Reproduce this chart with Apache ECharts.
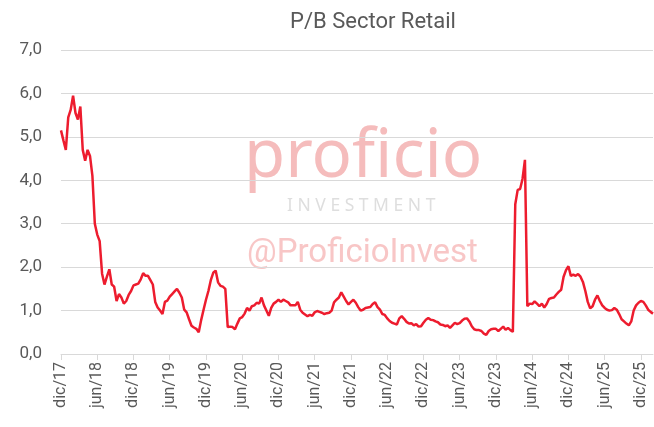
<!DOCTYPE html>
<html>
<head>
<meta charset="utf-8">
<script src="https://cdn.jsdelivr.net/npm/echarts@6/dist/echarts.min.js"></script>
<style>
html,body{margin:0;padding:0;background:#fff;}
#chart{width:654px;height:427px;}
</style>
</head>
<body>
<div id="chart"></div>
<script>
const titleText = 'P/B Sector Retail';
const tickLabels = ['dic/17','jun/18','dic/18','jun/19','dic/19','jun/20','dic/20','jun/21','dic/21','jun/22','dic/22','jun/23','dic/23','jun/24','dic/24','jun/25','dic/25'];
const pointsPerTick = 15;
const pbValues = [
5.15,4.92,4.7,5.45,5.62,5.95,5.55,5.4,5.7,4.7,
4.45,4.7,4.56,4.1,3.0,2.75,2.6,1.85,1.6,1.78,
1.95,1.6,1.55,1.22,1.38,1.3,1.16,1.22,1.36,1.45,
1.58,1.6,1.62,1.72,1.86,1.8,1.8,1.7,1.6,1.2,
1.07,1.0,0.92,1.2,1.23,1.32,1.38,1.44,1.5,1.41,
1.3,1.02,0.96,0.8,0.65,0.61,0.58,0.5,0.78,1.02,
1.25,1.45,1.7,1.87,1.92,1.65,1.57,1.55,1.5,0.62,
0.63,0.62,0.57,0.7,0.82,0.85,0.93,1.06,1.0,1.1,
1.12,1.18,1.16,1.3,1.12,1.0,0.88,1.06,1.16,1.2,
1.25,1.2,1.25,1.22,1.19,1.12,1.12,1.12,1.2,1.02,
0.95,0.91,0.87,0.9,0.88,0.96,0.99,0.97,0.95,0.92,
0.94,0.95,1.0,1.19,1.25,1.3,1.42,1.32,1.22,1.14,
1.2,1.25,1.18,1.08,1.0,1.02,1.06,1.07,1.08,1.15,
1.19,1.08,1.02,0.92,0.9,0.82,0.76,0.72,0.7,0.68,
0.82,0.87,0.81,0.74,0.7,0.71,0.66,0.69,0.63,0.64,
0.72,0.79,0.83,0.79,0.78,0.75,0.73,0.68,0.67,0.64,
0.66,0.6,0.66,0.72,0.69,0.71,0.77,0.81,0.82,0.75,
0.64,0.57,0.55,0.55,0.53,0.47,0.44,0.53,0.57,0.58,
0.58,0.53,0.58,0.63,0.56,0.6,0.55,0.51,3.45,3.78,
3.8,4.03,4.47,1.1,1.16,1.15,1.21,1.16,1.1,1.16,
1.07,1.15,1.27,1.29,1.3,1.37,1.43,1.48,1.78,1.93,
2.02,1.8,1.83,1.8,1.84,1.78,1.66,1.45,1.2,1.05,
1.1,1.25,1.35,1.22,1.12,1.06,1.02,1.0,1.01,1.06,
1.02,0.92,0.8,0.75,0.7,0.66,0.75,1.0,1.12,1.18,
1.22,1.2,1.12,1.02,0.97,0.93
];
const categories = pbValues.map((v, i) => (i % pointsPerTick === 0 ? (tickLabels[i / pointsPerTick] || '') : ''));

const chart = echarts.init(document.getElementById('chart'), null, {renderer: 'canvas'});
const textColor = '#595959';
const font = 'Roboto';
chart.setOption({
  animation: false,
  backgroundColor: '#ffffff',
  title: {
    text: titleText,
    left: 368, top: 6, textAlign: 'center',
    textStyle: {color: textColor, fontSize: 22, fontWeight: 'normal', fontFamily: font}
  },
  graphic: [
    {type: 'text', z: 0, silent: true, top: 124, left: 244,
      style: {text: 'proficio', font: '67px "Noto Sans"', fill: '#f5bcbc'}},
    {type: 'text', z: 0, silent: true, top: 197, left: 287,
      style: {text: 'I N V E S T M E N T', font: '17.5px "Noto Sans"', fill: '#dedede'}},
    {type: 'text', z: 0, silent: true, top: 237, left: 247,
      style: {text: '@ProficioInvest', font: '33px Roboto', fill: '#f8c6c6'}}
  ],
  grid: {left: 61, right: 1, top: 50, bottom: 73, containLabel: false},
  xAxis: {
    type: 'category',
    data: categories,
    boundaryGap: false,
    axisLine: {show: true, lineStyle: {color: '#d9d9d9', width: 1}},
    axisTick: {show: true, length: 6, interval: (i) => i % pointsPerTick === 0, lineStyle: {color: '#d9d9d9'}},
    axisLabel: {interval: (i) => i % pointsPerTick === 0, rotate: 90, color: textColor, fontSize: 16, fontFamily: font, margin: 8},
    splitLine: {show: false}
  },
  yAxis: {
    type: 'value', min: 0, max: 7, interval: 1,
    axisLine: {show: false}, axisTick: {show: false},
    axisLabel: {color: textColor, fontSize: 17, fontFamily: font, margin: 19,
      formatter: (v) => v.toFixed(1).replace('.', ',')},
    splitLine: {lineStyle: {color: '#d9d9d9', width: 1}}
  },
  series: [{
    type: 'line', data: pbValues, showSymbol: false, symbol: 'none',
    lineStyle: {color: '#ed1c2e', width: 2.5}, z: 5
  }]
});
</script>
</body>
</html>
